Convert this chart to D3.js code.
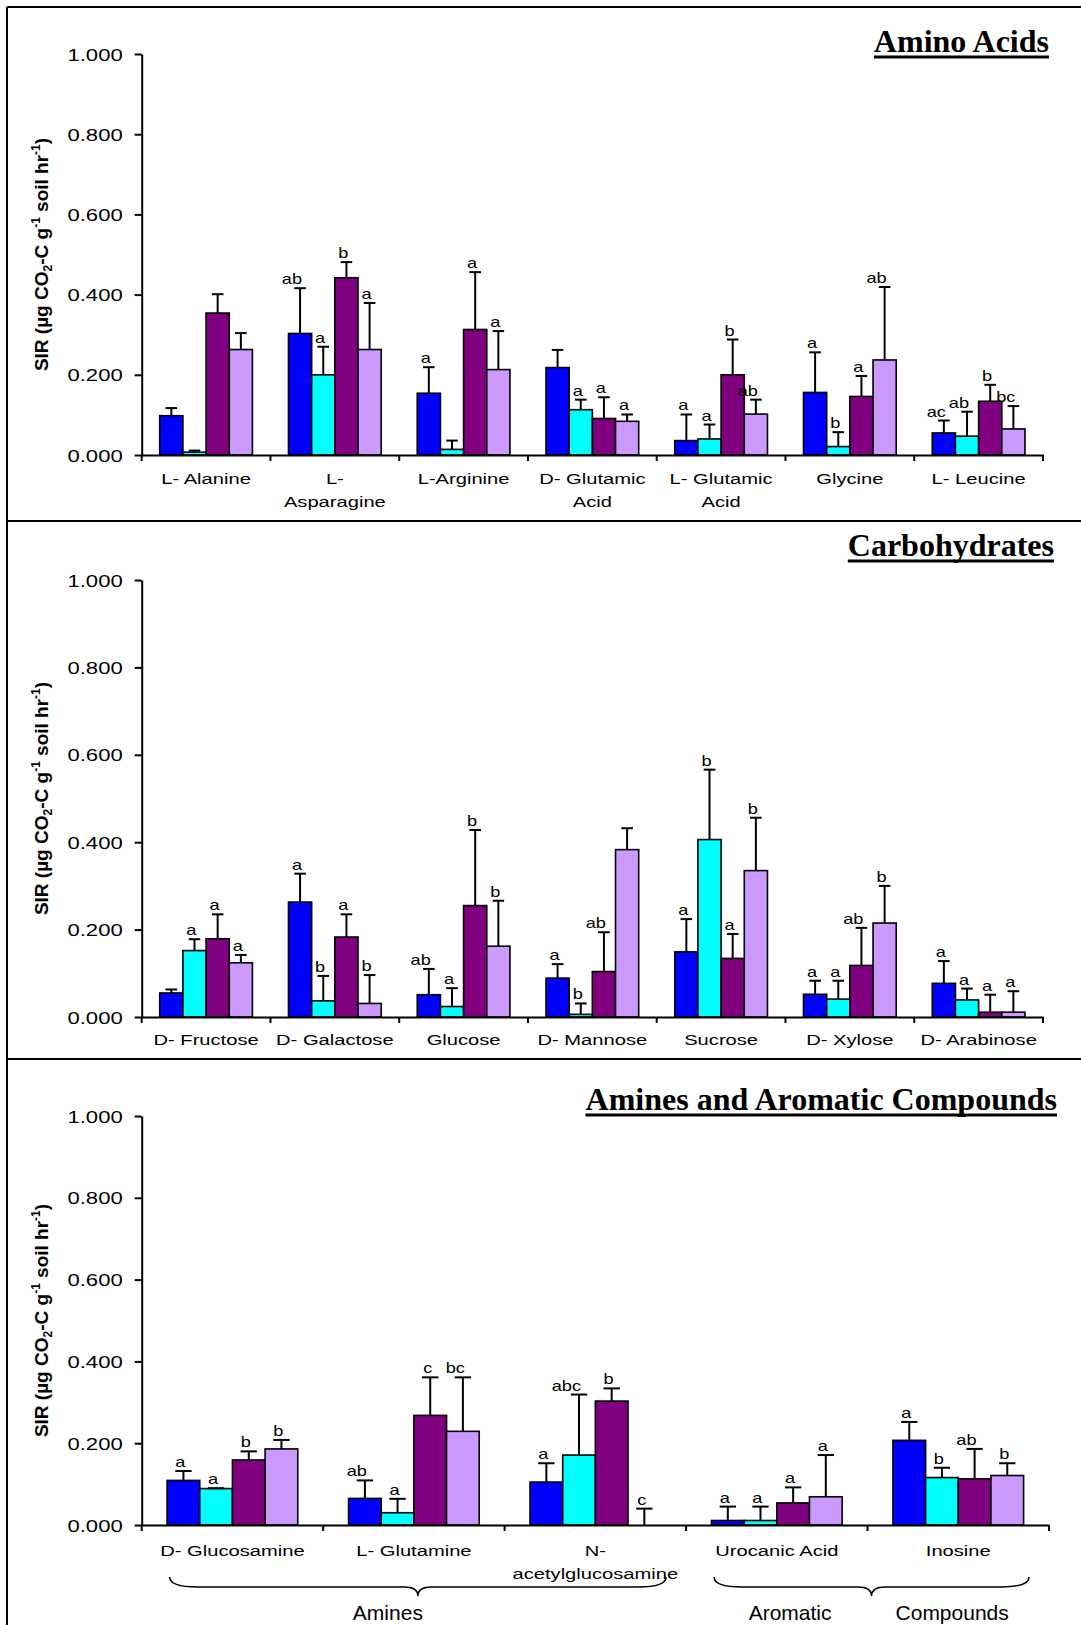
<!DOCTYPE html>
<html>
<head>
<meta charset="utf-8">
<script src="https://cdn.jsdelivr.net/npm/d3@7"></script>
<style>
  body { margin: 0; background: #fff; }
  svg { display: block; }
</style>
</head>
<body>
<svg id="chart" width="1081" height="1625"></svg>
<script>
// ---------- Amino acids ----------
const aminoCategories = ["L- Alanine", "L-\nAsparagine", "L-Arginine", "D- Glutamic\nAcid", "L- Glutamic\nAcid", "Glycine", "L- Leucine"];
const aminoMeans = [
  [0.098, 0.007, 0.354, 0.263],
  [0.303, 0.200, 0.442, 0.263],
  [0.154, 0.014, 0.313, 0.213],
  [0.218, 0.113, 0.091, 0.084],
  [0.036, 0.040, 0.200, 0.102],
  [0.156, 0.021, 0.146, 0.237],
  [0.055, 0.047, 0.134, 0.065]
];
const aminoErrors = [
  [0.019, 0.004, 0.047, 0.041],
  [0.113, 0.070, 0.039, 0.116],
  [0.065, 0.022, 0.143, 0.096],
  [0.044, 0.025, 0.053, 0.017],
  [0.065, 0.036, 0.088, 0.036],
  [0.100, 0.036, 0.051, 0.182],
  [0.031, 0.061, 0.041, 0.057]
];
const aminoLetters = [
  ["", "", "", ""],
  ["ab", "a", "b", "a"],
  ["a", "", "a", "a"],
  ["", "a", "a", "a"],
  ["a", "a", "b", "ab"],
  ["a", "b", "a", "ab"],
  ["ac", "ab", "b", "bc"]
];

// ---------- Carbohydrates ----------
const carbCategories = ["D- Fructose", "D- Galactose", "Glucose", "D- Mannose", "Sucrose", "D- Xylose", "D- Arabinose"];
const carbMeans = [
  [0.055, 0.152, 0.179, 0.124],
  [0.263, 0.037, 0.183, 0.031],
  [0.051, 0.024, 0.255, 0.162],
  [0.089, 0.006, 0.104, 0.383],
  [0.149, 0.406, 0.134, 0.335],
  [0.052, 0.041, 0.118, 0.215],
  [0.077, 0.039, 0.011, 0.011]
];
const carbErrors = [
  [0.008, 0.026, 0.056, 0.018],
  [0.065, 0.057, 0.052, 0.065],
  [0.059, 0.042, 0.173, 0.104],
  [0.032, 0.025, 0.090, 0.049],
  [0.075, 0.160, 0.056, 0.121],
  [0.031, 0.042, 0.086, 0.085],
  [0.051, 0.026, 0.040, 0.048]
];
const carbLetters = [
  ["", "a", "a", "a"],
  ["a", "b", "a", "b"],
  ["ab", "a", "b", "b"],
  ["a", "b", "ab", ""],
  ["a", "b", "a", "b"],
  ["a", "a", "ab", "b"],
  ["a", "a", "a", "a"]
];

// ---------- Amines and aromatic compounds ----------
const amineCategories = ["D- Glucosamine", "L- Glutamine", "N-\nacetylglucosamine", "Urocanic Acid", "Inosine"];
const amineMeans = [
  [0.109, 0.089, 0.159, 0.186],
  [0.065, 0.030, 0.268, 0.229],
  [0.105, 0.171, 0.303, 0.000],
  [0.011, 0.011, 0.054, 0.069],
  [0.207, 0.116, 0.113, 0.121]
];
const amineErrors = [
  [0.023, 0.001, 0.021, 0.022],
  [0.044, 0.034, 0.093, 0.132],
  [0.046, 0.148, 0.031, 0.040],
  [0.034, 0.034, 0.038, 0.102],
  [0.045, 0.024, 0.073, 0.030]
];
const amineLetters = [
  ["a", "a", "b", "b"],
  ["ab", "a", "c", "bc"],
  ["a", "abc", "b", "c"],
  ["a", "a", "a", "a"],
  ["a", "b", "ab", "b"]
];
const amineGroupNames = ["Amines", "Aromatic Compounds"];
const amineGroupSpans = [[0, 2], [3, 4]];

const yTickValues = [0, 0.2, 0.4, 0.6, 0.8, 1.0];

// ---------- styling / layout ----------
const seriesColors = ["#0000ff", "#00ffff", "#800080", "#cc99ff"];
const SANS = "'Liberation Sans', Arial, sans-serif";
const SERIF = "'Liberation Serif', 'Times New Roman', serif";
const TEXT_STRETCH = 1.3;

const panels = [
  { title: "Amino Acids", categories: aminoCategories, means: aminoMeans, errors: aminoErrors, letters: aminoLetters,
    left: 141.7, right: 1043, top: 54, bottom: 455, titleX: 1049, titleY: 52, labelGap: 29 },
  { title: "Carbohydrates", categories: carbCategories, means: carbMeans, errors: carbErrors, letters: carbLetters,
    left: 141.7, right: 1043, top: 580, bottom: 1017, titleX: 1054, titleY: 556, labelGap: 28 },
  { title: "Amines and Aromatic Compounds", categories: amineCategories, means: amineMeans, errors: amineErrors, letters: amineLetters,
    left: 141.7, right: 1049, top: 1116, bottom: 1525, titleX: 1057, titleY: 1110, labelGap: 31,
    groups: { names: amineGroupNames, spans: amineGroupSpans } }
];

const svg = d3.select("#chart");

// outer frame and panel separators
const frame = svg.append("g").attr("stroke", "#000").attr("stroke-width", 2);
frame.append("line").attr("x1", 7).attr("y1", 7).attr("x2", 7).attr("y2", 1625);
[7, 521, 1059].forEach(yy => frame.append("line").attr("x1", 7).attr("x2", 1081).attr("y1", yy).attr("y2", yy));

function stretchedText(parent, x, y, txt, size, anchor) {
  return parent.append("text")
    .attr("transform", `translate(${x},${y}) scale(${TEXT_STRETCH},1)`)
    .attr("text-anchor", anchor)
    .attr("font-family", SANS)
    .attr("font-size", size)
    .attr("fill", "#000")
    .text(txt);
}

function drawPanel(p) {
  const g = svg.append("g");
  const n = p.categories.length;
  const x = d3.scaleBand().domain(d3.range(n)).range([p.left, p.right]).padding(0);
  const bw = x.bandwidth();
  const inner = d3.scaleBand().domain(d3.range(4)).range([bw * 0.14, bw * 0.86]).padding(0);
  const y = d3.scaleLinear().domain([0, 1]).range([p.bottom, p.top]);

  // bars
  p.means.forEach((row, i) => {
    row.forEach((v, j) => {
      const h = y(0) - y(v);
      if (h <= 0) return;
      g.append("rect")
        .attr("x", x(i) + inner(j))
        .attr("y", y(v))
        .attr("width", inner.bandwidth())
        .attr("height", h)
        .attr("fill", seriesColors[j])
        .attr("stroke", "#000")
        .attr("stroke-width", 1.6);
    });
  });

  // error bars (upper only) and significance letters
  p.means.forEach((row, i) => {
    row.forEach((v, j) => {
      const cx = x(i) + inner(j) + inner.bandwidth() / 2;
      const topV = v + p.errors[i][j];
      const capHalf = inner.bandwidth() / 4;
      g.append("line").attr("x1", cx).attr("x2", cx).attr("y1", y(v)).attr("y2", y(topV))
        .attr("stroke", "#000").attr("stroke-width", 2);
      g.append("line").attr("x1", cx - capHalf).attr("x2", cx + capHalf).attr("y1", y(topV)).attr("y2", y(topV))
        .attr("stroke", "#000").attr("stroke-width", 2);
      const lab = p.letters[i][j];
      if (lab) stretchedText(g, cx + 2, y(topV) - 4, lab, 14, "end");
    });
  });

  // y axis
  const yAxis = d3.axisLeft(y).tickValues(yTickValues).tickFormat(d3.format(".3f")).tickSizeInner(7).tickSizeOuter(0);
  const ya = g.append("g").attr("transform", `translate(${p.left},0)`).call(yAxis);
  ya.select(".domain").attr("stroke", "#000").attr("stroke-width", 2);
  ya.selectAll(".tick line").attr("stroke", "#000").attr("stroke-width", 2);
  ya.selectAll(".tick text")
    .attr("x", null).attr("dy", null)
    .attr("transform", `translate(-19,6) scale(${TEXT_STRETCH},1)`)
    .attr("font-family", SANS).attr("font-size", 17).attr("fill", "#000");

  // x axis line with boundary ticks between categories
  const xAxis = d3.axisBottom(x).tickSize(0).tickFormat("");
  const xa = g.append("g").attr("transform", `translate(0,${p.bottom})`).call(xAxis);
  xa.select(".domain").attr("stroke", "#000").attr("stroke-width", 2);
  const bounds = d3.range(n).map(i => x(i)).concat([x.range()[1]]);
  g.selectAll(null).data(bounds).enter().append("line")
    .attr("x1", d => d).attr("x2", d => d)
    .attr("y1", p.bottom).attr("y2", p.bottom + 6)
    .attr("stroke", "#000").attr("stroke-width", 2);

  // category labels
  p.categories.forEach((c, i) => {
    c.split("\n").forEach((line, k) => {
      stretchedText(g, x(i) + bw / 2, p.bottom + p.labelGap + k * 23, line, 15.5, "middle");
    });
  });

  // y axis title
  const yt = g.append("text")
    .attr("transform", `translate(48,${(p.top + p.bottom) / 2}) rotate(-90)`)
    .attr("text-anchor", "middle")
    .attr("font-family", SANS).attr("font-weight", "bold").attr("font-size", 19).attr("fill", "#000");
  yt.append("tspan").text("SIR (µg CO");
  yt.append("tspan").attr("font-size", 12).attr("dy", 4).text("2");
  yt.append("tspan").attr("dy", -4).text("-C g");
  yt.append("tspan").attr("font-size", 12).attr("dy", -8).text("-1");
  yt.append("tspan").attr("dy", 8).text(" soil hr");
  yt.append("tspan").attr("font-size", 12).attr("dy", -8).text("-1");
  yt.append("tspan").attr("dy", 8).text(")");

  // panel title, underlined
  const tt = g.append("text")
    .attr("x", p.titleX).attr("y", p.titleY)
    .attr("text-anchor", "end")
    .attr("font-family", SERIF).attr("font-weight", "bold").attr("font-size", 32).attr("fill", "#000")
    .text(p.title);
  const bb = tt.node().getBBox();
  g.append("line").attr("x1", bb.x).attr("x2", bb.x + bb.width)
    .attr("y1", p.titleY + 5).attr("y2", p.titleY + 5)
    .attr("stroke", "#000").attr("stroke-width", 3);

  // grouping braces under categories
  if (p.groups) {
    const yTop = 1577, yLine = 1587, yCusp = 1596;
    p.groups.spans.forEach((span, gi) => {
      const x0 = x(span[0]) + 28;
      const x1 = x(span[1]) + bw - 20;
      const xm = (x0 + x1) / 2;
      const r = 14;
      const path = `M${x0},${yTop} Q${x0},${yLine} ${x0 + r * 2},${yLine} L${xm - r},${yLine} Q${xm},${yLine} ${xm},${yCusp}` +
                   ` Q${xm},${yLine} ${xm + r},${yLine} L${x1 - r * 2},${yLine} Q${x1},${yLine} ${x1},${yTop}`;
      g.append("path").attr("d", path).attr("fill", "none").attr("stroke", "#000").attr("stroke-width", 1.5);
      const words = p.groups.names[gi].split(" ");
      const lbl = (t, xx, anchor) => g.append("text").attr("x", xx).attr("y", 1620)
        .attr("text-anchor", anchor).attr("font-family", SANS).attr("font-size", 21).attr("fill", "#000").text(t);
      if (words.length === 1) {
        lbl(words[0], xm - 30, "middle");
      } else {
        lbl(words[0], xm - 40, "end");
        lbl(words.slice(1).join(" "), xm + 24, "start");
      }
    });
  }
}

panels.forEach(drawPanel);
</script>
</body>
</html>
